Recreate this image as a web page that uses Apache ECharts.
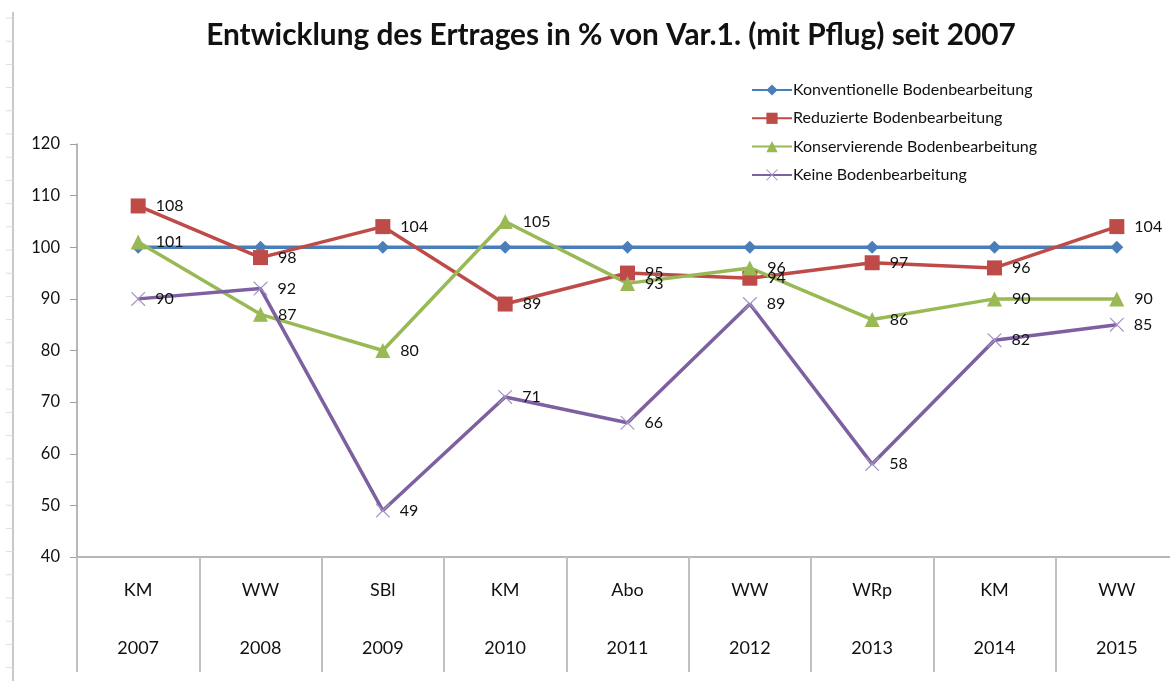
<!DOCTYPE html>
<html>
<head>
<meta charset="utf-8">
<script src="https://cdn.jsdelivr.net/npm/echarts@6/dist/echarts.min.js"></script>
<style>
  html, body { margin: 0; padding: 0; background: #fff; }
  #chart { width: 1170px; height: 681px; }
</style>
</head>
<body>
<div id="chart"></div>
<script>
var years = ['2007', '2008', '2009', '2010', '2011', '2012', '2013', '2014', '2015'];
var crops = ['KM', 'WW', 'SBl', 'KM', 'Abo', 'WW', 'WRp', 'KM', 'WW'];
var konventionell = [100, 100, 100, 100, 100, 100, 100, 100, 100];
var reduziert = [108, 98, 104, 89, 95, 94, 97, 96, 104];
var konservierend = [101, 87, 80, 105, 93, 96, 86, 90, 90];
var keine = [90, 92, 49, 71, 66, 89, 58, 82, 85];
var yTicks = { min: 40, max: 120, interval: 10 };

var font = 'Lato, "Noto Sans", sans-serif';
var crossPath = 'path://M0,0 L1.2,0 L10,8.8 L18.8,0 L20,0 L20,1.2 L11.2,10 L20,18.8 L20,20 L18.8,20 L10,11.2 L1.2,20 L0,20 L0,18.8 L8.8,10 L0,1.2 Z';

var chart = echarts.init(document.getElementById('chart'));

function lbl() {
  return { show: true, position: 'right', distance: 10, color: '#111', fontSize: 16, fontFamily: font };
}

// decorative ruler on the left edge
var ruler = [{ type: 'line', shape: { x1: 13, y1: 12, x2: 13, y2: 681 }, style: { stroke: '#c8c8c8', lineWidth: 2 } }];
for (var i = 0; i < 29; i++) {
  ruler.push({ type: 'line', shape: { x1: 6, y1: 18 + i * 23.2, x2: 13, y2: 18 + i * 23.2 }, style: { stroke: '#dcdcdc', lineWidth: 1 } });
}

chart.setOption({
  backgroundColor: '#fff',
  animation: false,
  title: {
    text: 'Entwicklung des Ertrages in % von Var.1. (mit Pflug) seit 2007',
    left: 606, top: 15, textAlign: 'center',
    textStyle: { fontSize: 29.8, fontWeight: 'bold', color: '#111', fontFamily: font }
  },
  graphic: ruler,
  legend: {
    orient: 'vertical',
    left: 746, top: 77,
    itemGap: 12.3, itemWidth: 40, itemHeight: 14,
    textStyle: { fontSize: 16, color: '#111', fontFamily: font, padding: [0, 0, 0, -4] },
    data: ['Konventionelle Bodenbearbeitung', 'Reduzierte Bodenbearbeitung', 'Konservierende Bodenbearbeitung', 'Keine Bodenbearbeitung']
  },
  grid: { left: 77, top: 144, width: 1101, height: 413, outerBoundsMode: 'none', containLabel: false },
  xAxis: {
    type: 'category',
    data: years,
    boundaryGap: true,
    axisLine: { lineStyle: { color: '#a0a0a0', width: 1.5 } },
    axisTick: { show: true, interval: 0, length: 115, lineStyle: { color: '#c0c0c0', width: 2 } },
    axisLabel: {
      interval: 0, margin: 4, lineHeight: 58, fontSize: 18, color: '#111', fontFamily: font,
      formatter: function (v, idx) { return crops[idx] + '\n' + v; }
    }
  },
  yAxis: {
    type: 'value',
    min: yTicks.min, max: yTicks.max, interval: yTicks.interval,
    splitLine: { show: false },
    axisLine: { show: true, lineStyle: { color: '#a0a0a0', width: 1.5 } },
    axisTick: { show: true, length: 7, lineStyle: { color: '#a0a0a0' } },
    axisLabel: { fontSize: 16.5, color: '#111', margin: 17, fontFamily: font }
  },
  series: [
    {
      name: 'Konventionelle Bodenbearbeitung', type: 'line', data: konventionell,
      symbol: 'diamond', symbolSize: 13,
      lineStyle: { color: '#4a7ebb', width: 3.5 }, itemStyle: { color: '#4a7ebb' }
    },
    {
      name: 'Reduzierte Bodenbearbeitung', type: 'line', data: reduziert,
      symbol: 'rect', symbolSize: 15,
      lineStyle: { color: '#be4b48', width: 3.5 }, itemStyle: { color: '#be4b48' },
      label: lbl()
    },
    {
      name: 'Konservierende Bodenbearbeitung', type: 'line', data: konservierend,
      symbol: 'triangle', symbolSize: 15,
      lineStyle: { color: '#98b954', width: 3.5 }, itemStyle: { color: '#98b954' },
      label: lbl()
    },
    {
      name: 'Keine Bodenbearbeitung', type: 'line', data: keine,
      symbol: crossPath, symbolSize: 14,
      lineStyle: { color: '#7d60a0', width: 3.5 }, itemStyle: { color: '#a493c6' },
      label: lbl()
    }
  ]
});
</script>
</body>
</html>
